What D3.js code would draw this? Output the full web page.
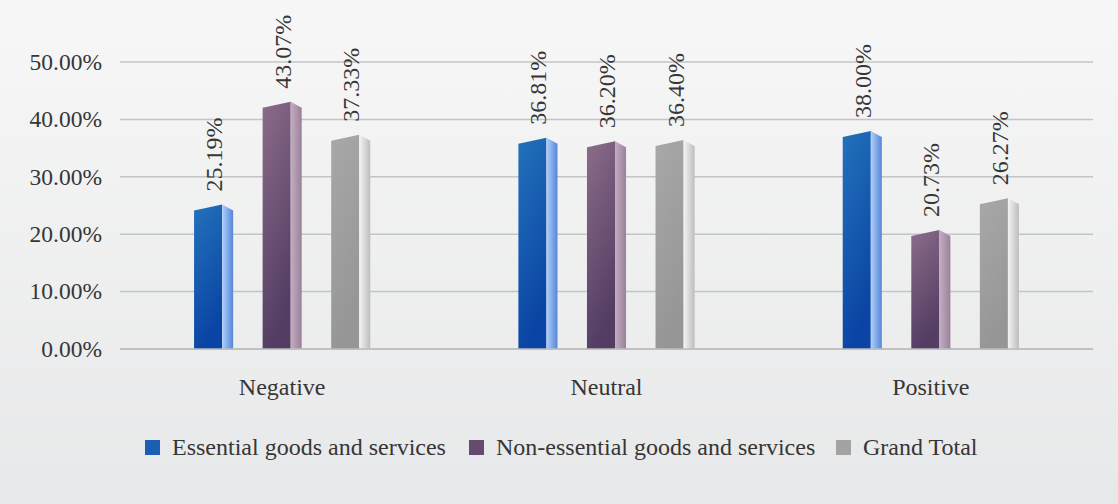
<!DOCTYPE html>
<html>
<head>
<meta charset="utf-8">
<script src="https://cdn.jsdelivr.net/npm/d3@7"></script>
<style>
  body { margin: 0; }
  svg text { font-family: "Liberation Serif", "Times New Roman", serif; fill: #363636; }
</style>
</head>
<body>
<div id="chart"></div>
<script>
var width = 1118, height = 504;

var categories = ["Negative", "Neutral", "Positive"];
var seriesNames = ["Essential goods and services", "Non-essential goods and services", "Grand Total"];
var essential = [25.19, 36.81, 38.00];
var nonEssential = [43.07, 36.20, 20.73];
var grandTotal = [37.33, 36.40, 26.27];
var yTicks = [0, 10, 20, 30, 40, 50];

var seriesValues = [essential, nonEssential, grandTotal];

// colours: front top, front bottom, side left, side right, legend swatch
var palette = [
  { ft: "#2372bb", fb: "#0a44a4", sl: "#b0d0fa", sr: "#5486d8", key: "#1a5fb4" },
  { ft: "#8c6c8a", fb: "#533d63", sl: "#c4adc3", sr: "#9a8199", key: "#654b6f" },
  { ft: "#a8a8a8", fb: "#969696", sl: "#f4f4f4", sr: "#bdbdbd", key: "#a3a3a3" }
];

var svg = d3.select("#chart")
  .append("svg")
    .attr("width", width)
    .attr("height", height);

var defs = svg.append("defs");

var bg = defs.append("linearGradient").attr("id", "bg")
  .attr("x1", 0).attr("y1", 0).attr("x2", 0).attr("y2", 1);
bg.append("stop").attr("offset", "0%").attr("stop-color", "#f7f7f7");
bg.append("stop").attr("offset", "100%").attr("stop-color", "#e7e8e9");

palette.forEach(function(p, i) {
  var f = defs.append("linearGradient").attr("id", "front" + i)
    .attr("x1", 0).attr("y1", 0).attr("x2", 0.3).attr("y2", 1);
  f.append("stop").attr("offset", "0%").attr("stop-color", p.ft);
  f.append("stop").attr("offset", "100%").attr("stop-color", p.fb);
  var s = defs.append("linearGradient").attr("id", "side" + i)
    .attr("x1", 0).attr("y1", 0).attr("x2", 1).attr("y2", 0);
  s.append("stop").attr("offset", "0%").attr("stop-color", p.sl);
  s.append("stop").attr("offset", "100%").attr("stop-color", p.sr);
});

svg.append("rect")
  .attr("width", width)
  .attr("height", height)
  .attr("fill", "url(#bg)");

var x0 = d3.scaleBand()
  .domain(categories)
  .range([120, 1093]);

var x1 = d3.scaleBand()
  .domain(d3.range(seriesNames.length))
  .range([0, x0.bandwidth()])
  .paddingInner(0.43)
  .paddingOuter(1.08);

var y = d3.scaleLinear()
  .domain([0, 50])
  .range([349, 62]);

// gridlines
svg.append("g")
  .selectAll("line")
  .data(yTicks)
  .enter().append("line")
    .attr("x1", 120)
    .attr("x2", 1093)
    .attr("y1", function(d) { return y(d); })
    .attr("y2", function(d) { return y(d); })
    .attr("stroke", "#c4c4c6")
    .attr("stroke-width", 1.5);

svg.append("g")
  .selectAll("text")
  .data(yTicks)
  .enter().append("text")
    .attr("x", 102)
    .attr("y", function(d) { return y(d); })
    .attr("dy", "0.33em")
    .attr("text-anchor", "end")
    .style("font-size", "23.5px")
    .text(function(d) { return d.toFixed(2) + "%"; });

// bars
var bw = x1.bandwidth();
var frontW = bw * 28 / 39;
var slant = 6;

var bars = [];
categories.forEach(function(c, ci) {
  seriesValues.forEach(function(vals, si) {
    bars.push({ cat: c, s: si, v: vals[ci] });
  });
});

var bar = svg.append("g").selectAll("g.bar")
  .data(bars)
  .enter().append("g")
    .attr("class", "bar");

bar.append("path")
  .attr("fill", function(d) { return "url(#front" + d.s + ")"; })
  .attr("d", function(d) {
    var xa = x0(d.cat) + x1(d.s), xb = xa + frontW, yt = y(d.v), yb = y(0);
    return "M" + xa + "," + (yt + slant) + "L" + xb + "," + yt + "L" + xb + "," + yb + "L" + xa + "," + yb + "Z";
  });

bar.append("path")
  .attr("fill", function(d) { return "url(#side" + d.s + ")"; })
  .attr("d", function(d) {
    var xa = x0(d.cat) + x1(d.s) + frontW, xb = x0(d.cat) + x1(d.s) + bw, yt = y(d.v), yb = y(0);
    return "M" + xa + "," + yt + "L" + xb + "," + (yt + slant) + "L" + xb + "," + yb + "L" + xa + "," + yb + "Z";
  });

bar.append("text")
  .attr("transform", function(d) {
    return "translate(" + (x0(d.cat) + x1(d.s) + frontW) + "," + (y(d.v) - 13) + ") rotate(-90)";
  })
  .style("font-size", "24px")
  .text(function(d) { return d.v.toFixed(2) + "%"; });

// baseline
svg.append("line")
  .attr("x1", 120).attr("x2", 1093)
  .attr("y1", y(0)).attr("y2", y(0))
  .attr("stroke", "#bdbdbf")
  .attr("stroke-width", 1.5);

// category labels
svg.append("g")
  .selectAll("text")
  .data(categories)
  .enter().append("text")
    .attr("x", function(d) { return x0(d) + x0.bandwidth() / 2; })
    .attr("y", 395)
    .attr("text-anchor", "middle")
    .style("font-size", "24px")
    .text(function(d) { return d; });

// legend
var legendX = [145, 469, 836];
var legend = svg.append("g")
  .selectAll("g")
  .data(seriesNames)
  .enter().append("g")
    .attr("transform", function(d, i) { return "translate(" + legendX[i] + ",440)"; });

legend.append("rect")
  .attr("width", 15)
  .attr("height", 15)
  .attr("fill", function(d, i) { return palette[i].key; });

legend.append("text")
  .attr("x", 27)
  .attr("y", 15)
  .style("font-size", "24px")
  .text(function(d) { return d; });
</script>
</body>
</html>
